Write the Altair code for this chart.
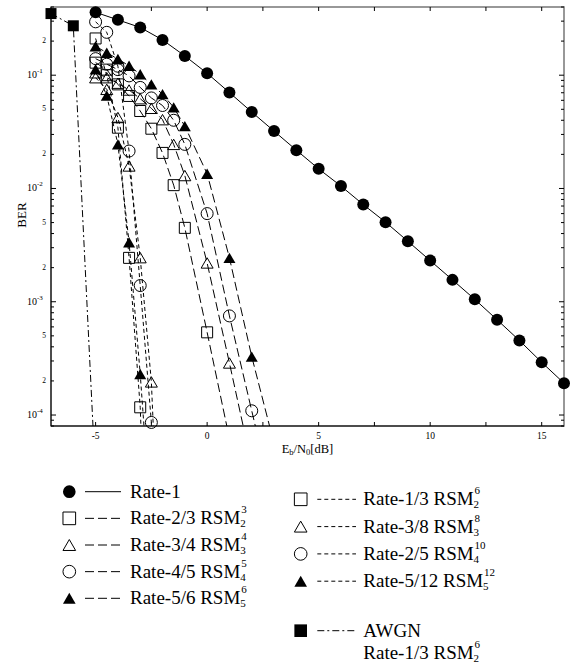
import altair as alt
import pandas as pd

SERIF = "Liberation Serif"
XMIN, XMAX = -7, 16
YMIN, YMAX = 8e-5, 0.4
PW, PH = 513, 419

# ---------------- data ----------------
awgn_x = [-7, -6, -5]
awgn_ber = [0.35, 0.273, 0.000027]

rate1_x = list(range(-5, 17))
rate1_ber = [0.359, 0.308, 0.264, 0.205, 0.148, 0.104, 0.0703, 0.0473, 0.0321,
             0.0218, 0.0149, 0.0105, 0.00721, 0.00504, 0.00342, 0.00231,
             0.00156, 0.00105, 0.000693, 0.000455, 0.000292, 0.000191]

r23_x = [-5, -4.5, -4, -3.5, -3, -2.5, -2, -1.5, -1, 0, 1]
r23_ber = [0.129, 0.112, 0.083, 0.0656, 0.0483, 0.0337, 0.0206, 0.0107, 0.00449, 0.000537, 0.000062]
r34_x = [-5, -4.5, -4, -3.5, -3, -2.5, -2, -1.5, -1, 0, 1, 2]
r34_ber = [0.105, 0.095, 0.085, 0.074, 0.062, 0.051, 0.0405, 0.0245, 0.0130, 0.0022, 0.000288, 0.000036]
r45_x = [-5, -4.5, -4, -3.5, -3, -2.5, -2, -1.5, -1, 0, 1, 2, 3]
r45_ber = [0.14, 0.125, 0.112, 0.0986, 0.078, 0.063, 0.054, 0.040, 0.0245, 0.0060, 0.00075, 0.000109, 0.000016]
r56_x = [-5, -4.5, -4, -3.5, -3, -2.5, -2, -1.5, -1, 0, 1, 2, 3]
r56_ber = [0.18, 0.158, 0.139, 0.121, 0.102, 0.083, 0.068, 0.052, 0.0355, 0.0135, 0.00244, 0.000328, 0.000056]

r13_x = [-5, -4.5, -4, -3.5, -3, -2.5]
r13_ber = [0.211, 0.10, 0.0344, 0.00244, 0.000117, 0.0000003]
r38_x = [-5, -4.5, -4, -3.5, -3, -2.5, -2]
r38_ber = [0.095, 0.075, 0.0423, 0.0158, 0.00245, 0.000196, 0.000001]
r25_x = [-5, -4.5, -4, -3.5, -3, -2.5, -2]
r25_ber = [0.296, 0.239, 0.12, 0.0214, 0.00139, 0.000086, 0.000005]
r512_x = [-5, -4.5, -4, -3.5, -3, -2.5]
r512_ber = [0.113, 0.066, 0.0245, 0.00335, 0.00023, 0.00001]

x_tick_vals = [-5, -2.5, 0, 2.5, 5, 7.5, 10, 12.5, 15]
x_label_vals = [-5, 0, 5, 10, 15]
x_label_text = ["-5", "0", "5", "10", "15"]
y_major_vals = [1e-4, 1e-3, 1e-2, 1e-1]
y_major_exp = ["-4", "-3", "-2", "-1"]
y_minor_vals = [k * 10.0 ** d for d in range(-5, 0) for k in range(2, 10)
                if YMIN <= k * 10.0 ** d <= YMAX]
y_minor_label_vals = [2e-4, 5e-4, 2e-3, 5e-3, 2e-2, 5e-2, 0.2]
y_minor_label_text = ["2", "5", "2", "5", "2", "5", "2"]

legend_left_main = ["Rate-1", "Rate-2/3 RSM", "Rate-3/4 RSM", "Rate-4/5 RSM", "Rate-5/6 RSM"]
legend_left_sub = ["", "2", "3", "4", "5"]
legend_left_sup = ["", "3", "4", "5", "6"]
legend_right_main = ["Rate-1/3 RSM", "Rate-3/8 RSM", "Rate-2/5 RSM", "Rate-5/12 RSM"]
legend_right_sub = ["2", "3", "4", "5"]
legend_right_sup = ["6", "8", "10", "12"]

# ---------------- styles ----------------
LONG = [9, 4]
SHORT = [4, 3]
DASHDOT = [7, 3, 2, 3]
SIZES = {"circle": 144, "square": 121, "triangle-up": 144}

xs = alt.Scale(domain=[XMIN, XMAX], nice=False, zero=False)
ys = alt.Scale(type="log", domain=[YMIN, YMAX], nice=False)
one = alt.Data(values=[{"a": 1}])

# Times / Liberation Serif advance widths (per 1000 em)
WID = {' ': 250, 'R': 667, 'a': 444, 't': 278, 'e': 444, '-': 333, '/': 278, 'S': 556,
       'M': 889, 'A': 722, 'W': 944, 'G': 722, 'N': 722, 'E': 611, 'b': 500, '[': 333,
       'd': 500, 'B': 667, ']': 333}
for _d in "0123456789":
    WID[_d] = 500


def tw(s, fs):
    return sum(WID.get(c, 500) for c in s) * fs / 1000.0


def txt(s, x, y, fs, align="left", angle=0):
    kw = dict(text=s, font=SERIF, fontSize=fs, align=align, baseline="middle", color="black")
    if angle:
        kw["angle"] = angle
    return alt.Chart(one).mark_text(**kw).encode(x=alt.value(x), y=alt.value(y))


def sym(shape, filled, x, y, size=150):
    return alt.Chart(one).mark_point(shape=shape, filled=filled, size=size, color="black",
                                     opacity=1, strokeWidth=1).encode(x=alt.value(x), y=alt.value(y))


def hline(a, b, y, dash):
    kw = dict(color="black", strokeWidth=1)
    if dash:
        kw["strokeDash"] = dash
    return alt.Chart(one).mark_rule(**kw).encode(x=alt.value(a), x2=alt.value(b), y=alt.value(y))


layers = []

series = [
    (awgn_x, awgn_ber, "square", True, DASHDOT),
    (rate1_x, rate1_ber, "circle", True, None),
    (r23_x, r23_ber, "square", False, LONG),
    (r34_x, r34_ber, "triangle-up", False, LONG),
    (r45_x, r45_ber, "circle", False, LONG),
    (r56_x, r56_ber, "triangle-up", True, LONG),
    (r13_x, r13_ber, "square", False, SHORT),
    (r38_x, r38_ber, "triangle-up", False, SHORT),
    (r25_x, r25_ber, "circle", False, SHORT),
    (r512_x, r512_ber, "triangle-up", True, SHORT),
]
for xv, bv, shape, filled, dash in series:
    df = pd.DataFrame({"x": xv, "ber": bv})
    enc = dict(x=alt.X("x:Q", scale=xs, axis=None), y=alt.Y("ber:Q", scale=ys, axis=None))
    kw = dict(color="black", strokeWidth=1, clip=True)
    if dash:
        kw["strokeDash"] = dash
    layers.append(alt.Chart(df).mark_line(**kw).encode(**enc))
    layers.append(alt.Chart(df).transform_filter(alt.datum.ber >= YMIN)
                  .mark_point(shape=shape, filled=filled, size=SIZES[shape], color="black",
                              opacity=1, strokeWidth=1).encode(**enc))

# ---------------- frame and ticks ----------------
layers.append(hline(0, PW, PH, None))
layers.append(alt.Chart(one).mark_rule(color="black", strokeWidth=1)
              .encode(x=alt.value(0), y=alt.value(0), y2=alt.value(PH)))

dfxt = pd.DataFrame({"v": x_tick_vals})
for y0, y1 in [(PH, PH - 4), (0, 4)]:
    layers.append(alt.Chart(dfxt).mark_rule(color="black", strokeWidth=1).encode(
        x=alt.X("v:Q", scale=xs, axis=None), y=alt.value(y0), y2=alt.value(y1)))

dfyM = pd.DataFrame({"v": y_major_vals, "e": y_major_exp})
dfym = pd.DataFrame({"v": y_minor_vals})
for df, ln in [(dfyM, 5), (dfym, 3)]:
    for x0, x1 in [(0, ln), (PW, PW - ln)]:
        layers.append(alt.Chart(df).mark_rule(color="black", strokeWidth=1).encode(
            y=alt.Y("v:Q", scale=ys, axis=None), x=alt.value(x0), x2=alt.value(x1)))

# tick labels
layers.append(alt.Chart(dfyM).mark_text(text="10", font=SERIF, fontSize=10, align="right",
                                        baseline="middle", color="black")
              .encode(y=alt.Y("v:Q", scale=ys, axis=None), x=alt.value(-14)))
layers.append(alt.Chart(dfyM).mark_text(font=SERIF, fontSize=7, align="left", baseline="middle",
                                        dy=-4, color="black")
              .encode(y=alt.Y("v:Q", scale=ys, axis=None), x=alt.value(-14), text="e:N"))
dfyl = pd.DataFrame({"v": y_minor_label_vals, "t": y_minor_label_text})
layers.append(alt.Chart(dfyl).mark_text(font=SERIF, fontSize=7.5, align="right", baseline="middle",
                                        color="black")
              .encode(y=alt.Y("v:Q", scale=ys, axis=None), x=alt.value(-5), text="t:N"))
dfxl = pd.DataFrame({"v": x_label_vals, "t": x_label_text})
layers.append(alt.Chart(dfxl).mark_text(font=SERIF, fontSize=9.5, align="center", baseline="middle",
                                        color="black")
              .encode(x=alt.X("v:Q", scale=xs, axis=None), y=alt.value(PH + 10), text="t:N"))

# axis titles
layers.append(txt("BER", -29, 208, 13, align="center", angle=270))
FT, FS = 12.5, 8.5
parts = [("E", FT, 0), ("b", FS, 3), ("/N", FT, 0), ("0", FS, 3), ("[dB]", FT, 0)]
total = sum(tw(s, f) for s, f, _ in parts)
cx = PW / 2 - total / 2
for s, f, dy in parts:
    layers.append(txt(s, cx, 442 + dy, f))
    cx += tw(s, f)

# ---------------- legend ----------------
LF, SF = 19, 11
SUB_DY, SUP_DY = 6, -8
left_shapes = [("circle", True, None), ("square", False, LONG), ("triangle-up", False, LONG),
               ("circle", False, LONG), ("triangle-up", True, LONG)]
for i, (shape, filled, dash) in enumerate(left_shapes):
    y = 484.7 + i * 26.65
    layers.append(sym(shape, filled, 18.3, y, 160))
    layers.append(hline(34, 70, y, dash))
    layers.append(txt(legend_left_main[i], 79, y, LF))
    if legend_left_sub[i]:
        xe = 79 + tw(legend_left_main[i], LF)
        layers.append(txt(legend_left_sub[i], xe, y + SUB_DY, SF))
        layers.append(txt(legend_left_sup[i], xe + 1, y + SUP_DY, SF))

right_shapes = [("square", False), ("triangle-up", False), ("circle", False), ("triangle-up", True)]
for i, (shape, filled) in enumerate(right_shapes):
    y = 492.3 + i * 27.3
    layers.append(sym(shape, filled, 249.7, y, 160))
    layers.append(hline(266.3, 305, y, SHORT))
    layers.append(txt(legend_right_main[i], 312.3, y, LF))
    xe = 312.3 + tw(legend_right_main[i], LF)
    layers.append(txt(legend_right_sub[i], xe, y + SUB_DY, SF))
    layers.append(txt(legend_right_sup[i], xe + 1, y + SUP_DY, SF))

ya = 623.7
layers.append(sym("square", True, 249.7, ya, 160))
layers.append(hline(266.3, 305, ya, DASHDOT))
layers.append(txt("AWGN", 312.3, ya, LF))
yb = 646.3
layers.append(txt("Rate-1/3 RSM", 312.3, yb, LF))
xe = 312.3 + tw("Rate-1/3 RSM", LF)
layers.append(txt("2", xe, yb + SUB_DY, SF))
layers.append(txt("6", xe + 1, yb + SUP_DY, SF))

chart = alt.layer(*layers).properties(
    width=PW, height=PH,
    autosize=alt.AutoSizeParams(type="none"),
    padding={"left": 51, "top": 7, "right": 7, "bottom": 245},
).configure_view(stroke="#777", strokeWidth=1.5)

chart.save("out.html", embed_options={"renderer": "svg", "actions": False})
